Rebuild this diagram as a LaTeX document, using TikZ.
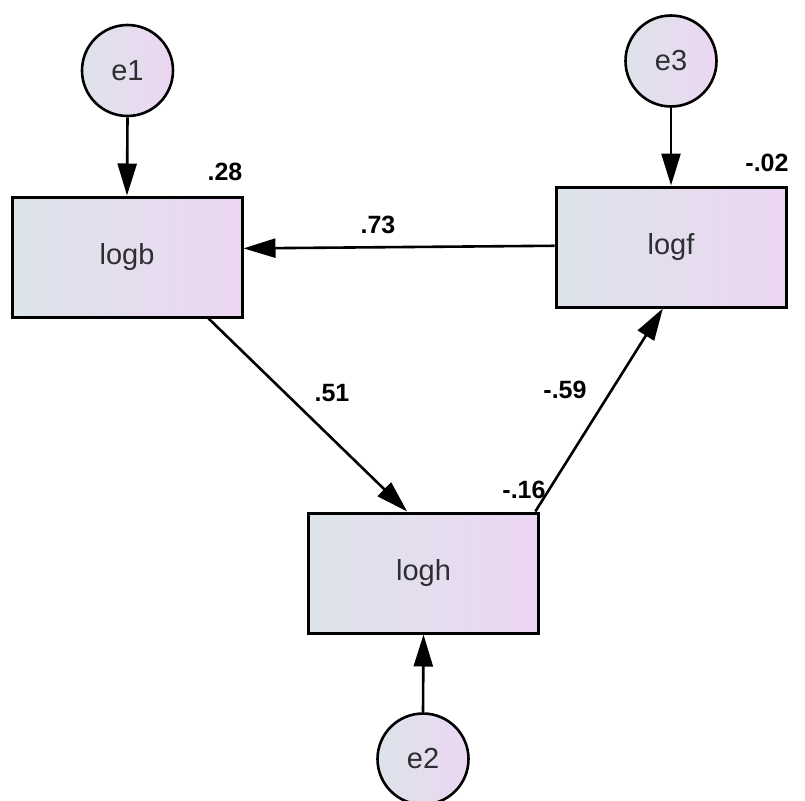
\documentclass[tikz,border=0pt]{standalone}
\usepackage{fontspec}
\setmainfont{Liberation Sans}
\usetikzlibrary{arrows.meta,calc}
\definecolor{fillL}{RGB}{221,228,234}
\definecolor{fillR}{RGB}{236,214,242}
\definecolor{txt}{RGB}{45,45,50}
\begin{document}
\begin{tikzpicture}[x=1pt,y=-1pt,
  obs/.style={draw=black,line width=3pt,rectangle,minimum width=230pt,minimum height=120pt,
    left color=fillL,right color=fillR,inner sep=0pt,font=\fontsize{29}{34}\selectfont,text=txt},
  err/.style={draw=black,line width=2.6pt,circle,minimum size=91pt,inner sep=0pt,
    left color=fillL,right color=fillR,font=\fontsize{29}{34}\selectfont,text=txt},
  path/.style={line width=2.6pt,-{Triangle[length=32pt,width=19pt]}},
  lab/.style={font=\bfseries\fontsize{25}{30}\selectfont,inner sep=0pt}]
\useasboundingbox (0,0) rectangle (805,800);
\clip (0,0) rectangle (805,800);
\fill[white] (0,0) rectangle (805,800);
\node[obs] (logb) at (127,257) {logb};
\node[obs] (logf) at (671,247) {logf};
\node[obs] (logh) at (423.5,573) {logh};
\node[err] (e1) at (127.5,70.5) {e1};
\node[err] (e3) at (671,61) {e3};
\node[err] (e2) at (423,759) {e2};
\draw[path] (e1.south) -- (logb.north);
\draw[path] (e3.south) -- (logf.north);
\draw[path] (e2.north) -- (logh.south);
\draw[path] ($(logf.north west)!0.49!(logf.south west)$) -- ($(logb.north east)!0.43!(logb.south east)$);
\draw[path] ($(logb.south west)!0.85!(logb.south east)$) -- ($(logh.north west)!0.43!(logh.north east)$);
\draw[path] ($(logh.north west)!0.98!(logh.north east)$) -- ($(logf.south west)!0.465!(logf.south east)$);
\node[lab] (l28) at (225,172) {.28};
\node[lab] (l02) at (767,163) {-.02};
\node[lab] (l73) at (378,225) {.73};
\node[lab] (l51) at (332,393) {.51};
\node[lab] (l59) at (565,390) {-.59};
\node[lab] (l16) at (524,490) {-.16};
\end{tikzpicture}
\end{document}
